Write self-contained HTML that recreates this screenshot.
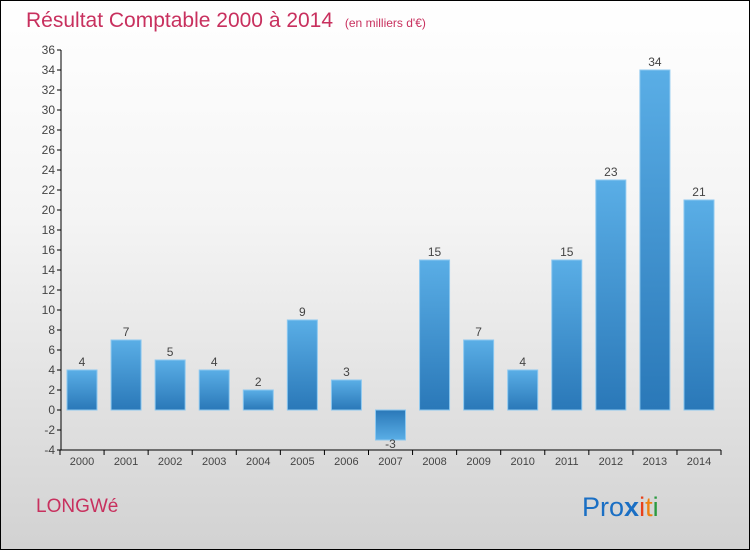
<!DOCTYPE html>
<html><head><meta charset="utf-8"><style>
body{margin:0;width:750px;height:550px;overflow:hidden;font-family:"Liberation Sans","DejaVu Sans",sans-serif}
#wrap{position:absolute;left:0;top:0;width:748px;height:548px;border:1px solid #000;background:linear-gradient(#fff 0%,#f4f4f4 40%,#d2d2d2 100%)}
</style></head><body>
<div id="wrap">
<svg width="750" height="550" style="position:absolute;left:-1px;top:-1px">
<defs><linearGradient id="bg" x1="0" y1="0" x2="0" y2="1"><stop offset="0" stop-color="#5aaee6"/><stop offset="1" stop-color="#2a78b8"/></linearGradient>
<linearGradient id="bgn" x1="0" y1="0" x2="0" y2="1"><stop offset="0" stop-color="#2a78b8"/><stop offset="1" stop-color="#5aaee6"/></linearGradient></defs>
<text x="26" y="27" font-size="21" fill="#c8305e">Résultat Comptable 2000 à 2014 <tspan font-size="12" dx="6">(en milliers d'€)</tspan></text>
<g id="ax"></g><g id="bars"></g>
<text x="36" y="512" font-size="19" fill="#c8305e">LONGWé</text>
<text x="582" y="516" font-size="27"><tspan fill="#1a6fc4">Pro</tspan><tspan fill="#1a6fc4" font-weight="bold">x</tspan><tspan fill="#e8401a">i</tspan><tspan fill="#f08010">t</tspan><tspan fill="#2a9a40">i</tspan></text>
</svg></div>
<script>
const years=["2000","2001","2002","2003","2004","2005","2006","2007","2008","2009","2010","2011","2012","2013","2014"];
const values=[4,7,5,4,2,9,3,-3,15,7,4,15,23,34,21];
const yTicks=[-4,-2,0,2,4,6,8,10,12,14,16,18,20,22,24,26,28,30,32,34,36];
const NS="http://www.w3.org/2000/svg";
const y=v=>410-v*10, x=i=>82+i*44.07;
function mk(t,a,p){const e=document.createElementNS(NS,t);for(const k in a)e.setAttribute(k,a[k]);p.appendChild(e);return e;}
const ax=document.getElementById('ax'),bars=document.getElementById('bars');
let l=mk('line',{x1:61,y1:50,x2:61,y2:450,stroke:'#000'},ax);


l=mk('line',{x1:61,y1:450,x2:721,y2:450,stroke:'#000'},ax);


yTicks.forEach(v=>{mk('line',{x1:57,y1:y(v),x2:61,y2:y(v),stroke:'#000'},ax);
const t=mk('text',{x:55,y:y(v)+4,'font-size':12,fill:'#444','text-anchor':'end'},ax);t.textContent=v;

});
years.forEach((yr,i)=>{mk('line',{x1:x(i)-22,y1:450,x2:x(i)-22,y2:455,stroke:'#000'},ax);
const t=mk('text',{x:x(i),y:465,'font-size':11,fill:'#444','text-anchor':'middle'},ax);t.textContent=yr;


const v=values[i];const r=mk('rect',{x:x(i)-15,y:Math.min(y(v),y(0)),width:30,height:Math.abs(v)*10,fill:v<0?'url(#bgn)':'url(#bg)',stroke:'#8cc8f0','stroke-width':1},bars);


const lb=mk('text',{x:x(i),y:v<0?y(v)+8:y(v)-4,'font-size':12,fill:'#444','text-anchor':'middle'},bars);lb.textContent=v;

});
mk('line',{x1:721,y1:450,x2:721,y2:455,stroke:'#000'},ax);
</script>
</body></html>
